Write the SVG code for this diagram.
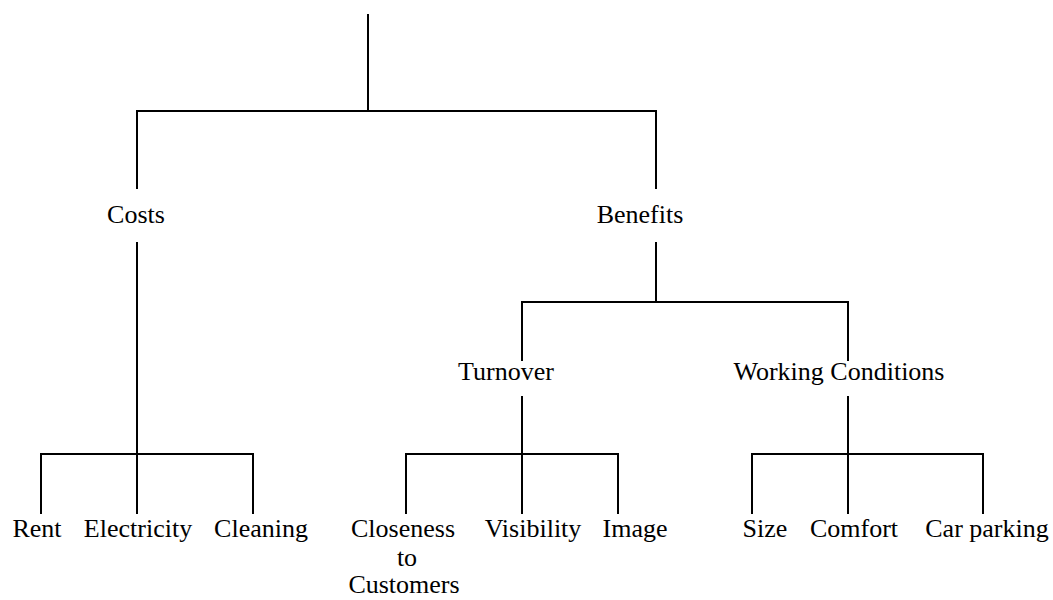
<svg xmlns="http://www.w3.org/2000/svg" width="1053" height="600" viewBox="0 0 1053 600">
<style>
.c line{stroke:#000;stroke-width:2;stroke-linecap:square}
text{font-family:"Liberation Serif","Times New Roman",serif;font-size:26px;fill:#000;text-anchor:middle}
</style>
<rect width="1053" height="600" fill="#fff"/>
<g id="connectors" class="c">
<line x1="368" y1="15" x2="368" y2="111"/>
<line x1="137" y1="111" x2="656" y2="111"/>
<line x1="137" y1="111" x2="137" y2="188"/>
<line x1="656" y1="111" x2="656" y2="188"/>
<line x1="137" y1="243" x2="137" y2="513"/>
<line x1="41" y1="454" x2="253" y2="454"/>
<line x1="41" y1="454" x2="41" y2="513"/>
<line x1="253" y1="454" x2="253" y2="513"/>
<line x1="656" y1="243" x2="656" y2="302"/>
<line x1="522" y1="302" x2="848" y2="302"/>
<line x1="522" y1="302" x2="522" y2="360"/>
<line x1="848" y1="302" x2="848" y2="360"/>
<line x1="522" y1="397" x2="522" y2="513"/>
<line x1="406" y1="454" x2="618" y2="454"/>
<line x1="406" y1="454" x2="406" y2="513"/>
<line x1="618" y1="454" x2="618" y2="513"/>
<line x1="848" y1="397" x2="848" y2="513"/>
<line x1="752" y1="454" x2="983" y2="454"/>
<line x1="752" y1="454" x2="752" y2="513"/>
<line x1="983" y1="454" x2="983" y2="513"/>
</g>
<g id="costs"><text x="136" y="223">Costs</text></g>
<g id="benefits"><text x="640" y="223">Benefits</text></g>
<g id="turnover"><text x="506" y="380">Turnover</text></g>
<g id="working-conditions"><text x="839" y="380">Working Conditions</text></g>
<g id="rent"><text x="37" y="537">Rent</text></g>
<g id="electricity"><text x="138" y="537">Electricity</text></g>
<g id="cleaning"><text x="261" y="537">Cleaning</text></g>
<g id="closeness"><text x="403" y="537">Closeness</text><text x="407" y="566">to</text><text x="404" y="593">Customers</text></g>
<g id="visibility"><text x="533" y="537">Visibility</text></g>
<g id="image"><text x="635" y="537">Image</text></g>
<g id="size"><text x="765" y="537">Size</text></g>
<g id="comfort"><text x="854" y="537">Comfort</text></g>
<g id="car-parking"><text x="987" y="537">Car parking</text></g>
</svg>
